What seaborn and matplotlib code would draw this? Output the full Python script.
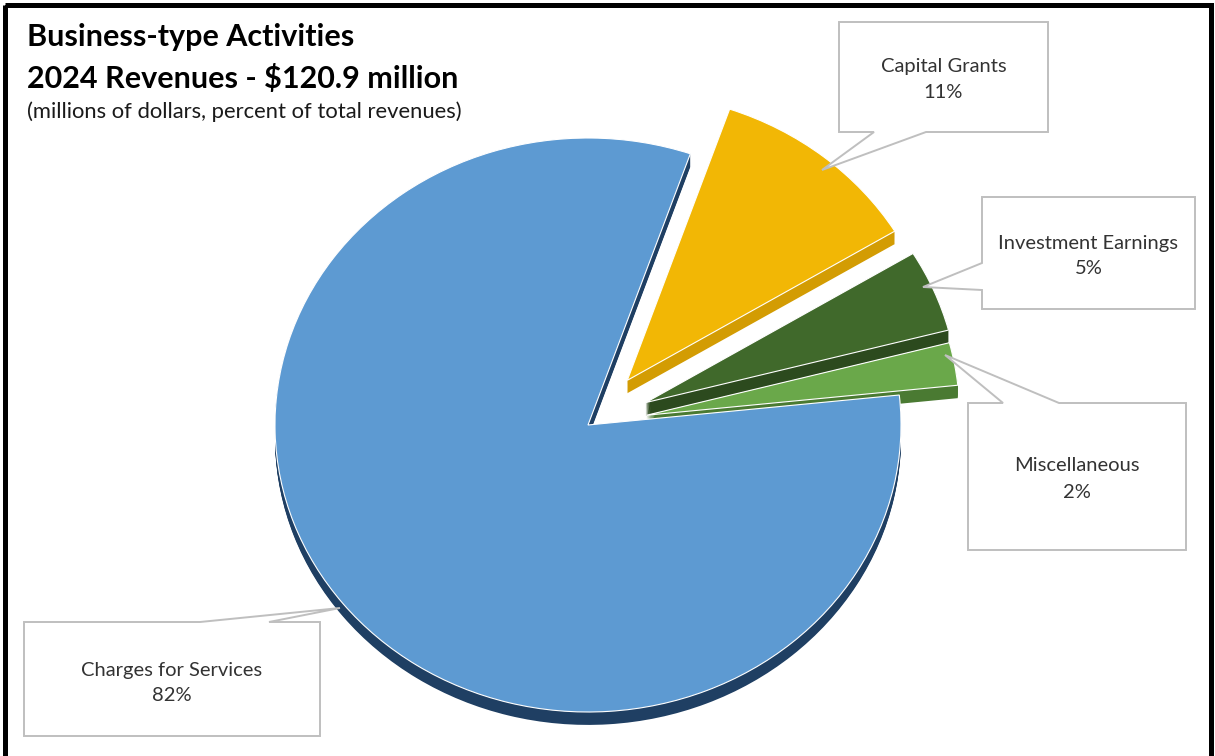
import numpy as np
import matplotlib
matplotlib.use("Agg")
import matplotlib.pyplot as plt
import seaborn as sns
from matplotlib.patches import Polygon, Rectangle

# ---------------- data (millions of dollars) ----------------
categories = ["Charges for Services", "Capital Grants", "Investment Earnings", "Miscellaneous"]
revenues = [99.1, 13.3, 5.6, 2.9]
pct_labels = ["82%", "11%", "5%", "2%"]
title_lines = ["Business-type Activities", "2024 Revenues - $120.9 million"]
subtitle = "(millions of dollars, percent of total revenues)"

# ---------------- style ----------------
top_colors = ["#5D9AD2", "#F2B705", "#40692B", "#6AA84A"]
side_colors = ["#1F3F63", "#D39C03", "#2C4A1E", "#4A7A32"]
explode = [0, 0.2, 0.2, 0.19]

sns.set_theme(style="white")
plt.rcParams['font.family'] = ['Lato', 'DejaVu Sans']

W, H = 1215, 756
fig = plt.figure(figsize=(W / 100, H / 100), dpi=100)

# pie axes placed so that the pie centre / radii land where the reference has them
cx, cy, rx, ry = 588, 425, 313, 287
k = 1.35
ax = fig.add_axes([(cx - rx * k) / W, (H - cy - ry * k) / H, 2 * rx * k / W, 2 * ry * k / H])
depth = 0.045
n = 14
for i in range(n, 0, -1):
    off = depth * i / n
    ax.pie(revenues, explode=explode, colors=side_colors, startangle=6, counterclock=False,
           center=(0, -off), radius=1, wedgeprops=dict(linewidth=0))
ax.pie(revenues, explode=explode, colors=top_colors, startangle=6, counterclock=False,
       center=(0, 0), radius=1, wedgeprops=dict(edgecolor="white", linewidth=0.8))
ax.set_aspect("auto")
ax.set_xlim(-k, k)
ax.set_ylim(-k, k)
ax.axis("off")

# overlay axes in pixel coordinates for titles and callouts
ov = fig.add_axes([0, 0, 1, 1], zorder=5)
ov.set_xlim(0, W)
ov.set_ylim(H, 0)
ov.axis("off")
ov.patch.set_alpha(0)

ov.add_patch(Rectangle((4.5, 4.5), 1206, 800, fill=False, edgecolor="black", lw=3.6, clip_on=False))

ov.text(27, 46, title_lines[0], fontsize=22, fontweight="bold", color="black", va="baseline", ha="left")
ov.text(27, 88, title_lines[1], fontsize=22, fontweight="bold", color="black", va="baseline", ha="left")
ov.text(27, 118, subtitle, fontsize=15.8, color="#1a1a1a", va="baseline", ha="left")

# callout boxes: (L, T, R, B, side, base1, base2, tip)
callouts = {
    "Capital Grants": (839, 22, 1048, 132, "bottom", 874, 926, (822, 170)),
    "Investment Earnings": (982, 197, 1195, 309, "left", 263, 290, (923, 287)),
    "Miscellaneous": (968, 403, 1186, 550, "top", 1003, 1059, (945, 355)),
    "Charges for Services": (24, 622, 320, 736, "top", 200, 269, (340, 608)),
}
text_y = {
    "Capital Grants": (72, 98),
    "Investment Earnings": (249, 274),
    "Miscellaneous": (471, 498),
    "Charges for Services": (676, 701),
}

for cat, pct in zip(categories, pct_labels):
    L, T, R, B, side, b1, b2, tip = callouts[cat]
    if side == "bottom":
        pts = [(L, T), (R, T), (R, B), (b2, B), tip, (b1, B), (L, B)]
    elif side == "top":
        pts = [(L, T), (b1, T), tip, (b2, T), (R, T), (R, B), (L, B)]
    else:  # left
        pts = [(L, T), (R, T), (R, B), (L, B), (L, b2), tip, (L, b1)]
    ov.add_patch(Polygon(pts, closed=True, facecolor="white", edgecolor="#BFBFBF", lw=1.4))
    xc = (L + R) / 2
    y1, y2 = text_y[cat]
    ov.text(xc, y1, cat, fontsize=14.5, color="#333333", ha="center", va="baseline")
    ov.text(xc, y2, pct, fontsize=14.5, color="#333333", ha="center", va="baseline")

fig.savefig("out.png", dpi=100, facecolor="white")
